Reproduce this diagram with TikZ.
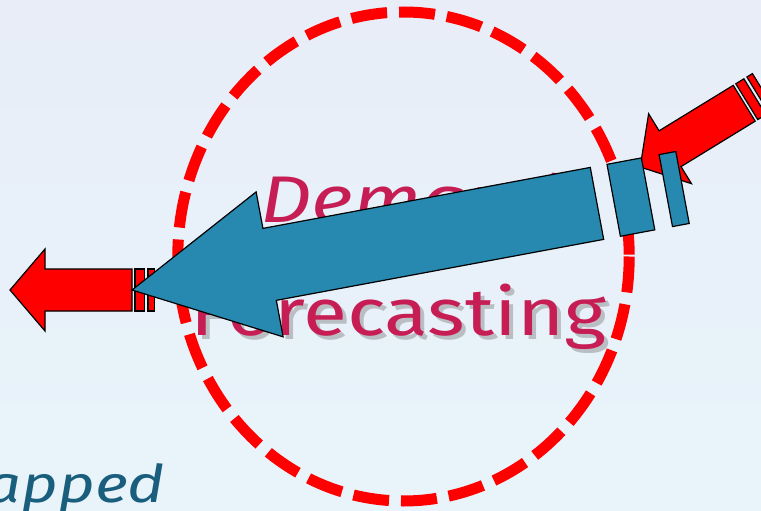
\documentclass[tikz,border=0pt]{standalone}
\usepackage{fontspec}
\newfontfamily\titlefont[FakeStretch=1.22]{Fira Sans}
\usetikzlibrary{positioning}
\definecolor{bgtop}{RGB}{232,237,248}
\definecolor{bgbottom}{RGB}{232,244,250}
\definecolor{crimson}{RGB}{198,30,84}
\definecolor{teal}{RGB}{26,94,126}
\definecolor{arrowblue}{RGB}{40,137,176}

\begin{document}
\begin{tikzpicture}[
    x=1pt, y=-1pt,
    ring/.style={draw=red, line width=11pt, dash pattern=on 36pt off 12pt},
    title/.style={font=\titlefont\fontsize{66}{70}\selectfont, text=crimson, inner sep=0pt},
    shadow/.style={font=\titlefont\fontsize{66}{70}\selectfont, text=black!50, opacity=0.45, inner sep=0pt},
    redarrow/.style={fill=red, draw=black, line width=1.2pt, line join=miter},
    bluearrow/.style={fill=arrowblue, draw=black, line width=1.2pt, line join=miter},
]

% ========== BACKGROUND ==========
\useasboundingbox (0,0) rectangle (761,511);
\shade[top color=bgtop, bottom color=bgbottom] (0,0) rectangle (761,511);
\clip (0,0) rectangle (761,511);

% ========== TEXT ==========
\node[shadow, anchor=base] (fcshadow) at (402.5,339) {Forecasting};
\node[title, anchor=base] (fc) at (398.5,335) {Forecasting};
\node[title, anchor=base, font=\titlefont\itshape\fontsize{66}{70}\selectfont] (dm) at (411,222) {Demand};
\node[anchor=base east, inner sep=0pt, text=teal, font=\titlefont\itshape\fontsize{52}{56}\selectfont] (strap) at (165,502) {rapped};

% ========== RING ==========
\draw[ring] (403.5,256.5) ellipse [x radius=225.7, y radius=244.5];

% ========== RED ARROWS ==========
% left, pointing out
\begin{scope}[shift={(10,290)}]
    \draw[redarrow] (0,0) -- (35,-41) -- (35,-21) -- (122,-21) -- (122,21) -- (35,21) -- (35,41) -- cycle;
    \draw[redarrow] (125,-21) rectangle (134.5,21);
    \draw[redarrow] (138,-21) rectangle (144.5,21);
\end{scope}

% top right, pointing in
\begin{scope}[shift={(640.2,167)}, rotate=31.5]
    \draw[redarrow] (0,0) -- (35,-41) -- (35,-21) -- (122,-21) -- (122,21) -- (35,21) -- (35,41) -- cycle;
    \draw[redarrow] (125,-21) rectangle (134.5,21);
    \draw[redarrow] (138,-21) rectangle (144.5,21);
\end{scope}

% ========== BLUE ARROW ==========
\begin{scope}[shift={(132,290)}, rotate=10.55]
    \draw[bluearrow] (0,0) -- (140,-73.7) -- (140,-36.6) -- (473,-36.6) -- (473,36.6) -- (140,36.6) -- (140,73.7) -- cycle;
    \draw[bluearrow] (490,-36.6) rectangle (525,36.6);
    \draw[bluearrow] (543,-36.6) rectangle (560,36.6);
\end{scope}

\end{tikzpicture}
\end{document}
